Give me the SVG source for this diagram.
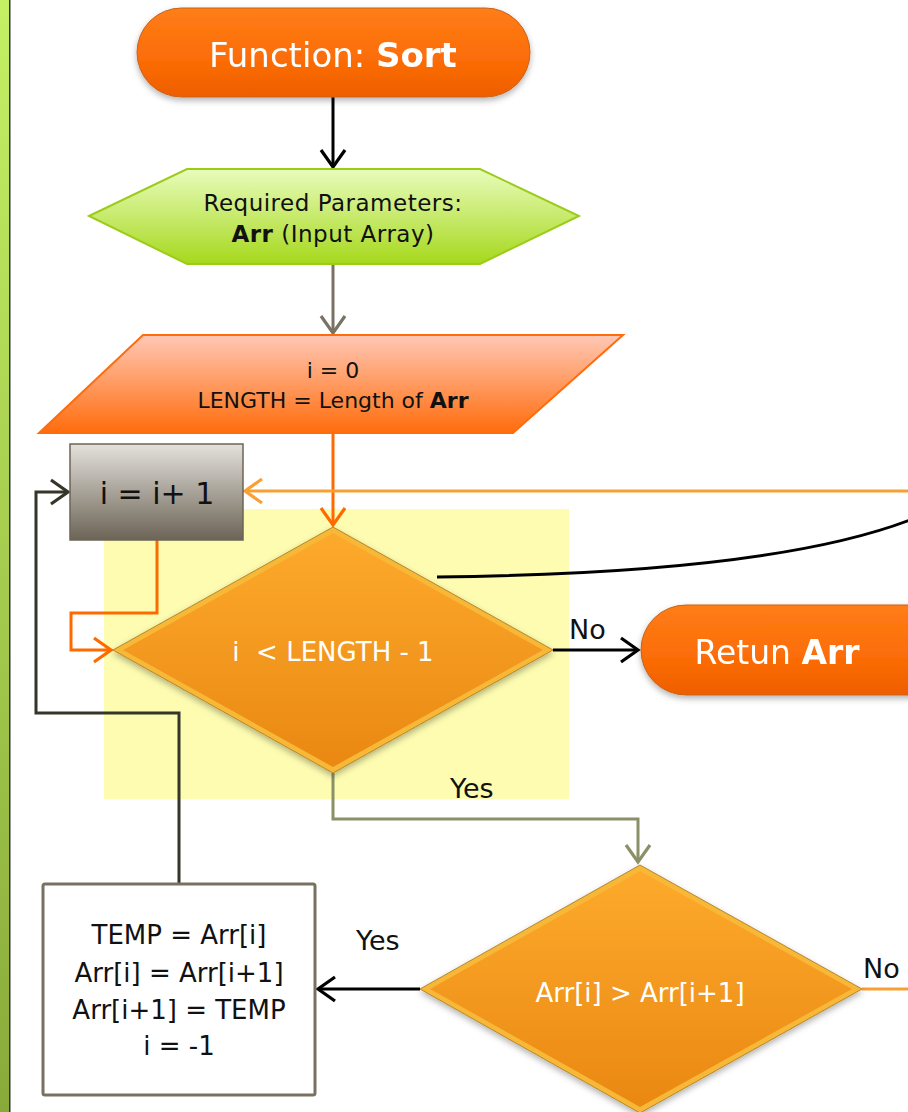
<svg xmlns="http://www.w3.org/2000/svg" width="908" height="1112" viewBox="0 0 908 1112">
  <defs>
    <style>
      .t { font-family: "DejaVu Sans", "Liberation Sans", sans-serif; text-anchor: middle; }
      .w { fill: #ffffff; }
      .k { fill: #111111; }
      .b { font-weight: bold; }
      .lbl { font-family: "DejaVu Sans", "Liberation Sans", sans-serif; font-size: 27px; fill: #111111; }
      .c { fill: none; stroke-width: 3; stroke-linejoin: miter; }
    </style>
    <linearGradient id="stripe" x1="0" y1="0" x2="0" y2="1">
      <stop offset="0" stop-color="#c4f064"/>
      <stop offset="1" stop-color="#88aa3a"/>
    </linearGradient>
    <linearGradient id="pill" x1="0" y1="0" x2="0" y2="1">
      <stop offset="0" stop-color="#ff7d18"/>
      <stop offset="0.6" stop-color="#fb6c06"/>
      <stop offset="1" stop-color="#ee5e00"/>
    </linearGradient>
    <linearGradient id="hex" x1="0" y1="0" x2="0" y2="1">
      <stop offset="0" stop-color="#e8fcbc"/>
      <stop offset="1" stop-color="#a6d81c"/>
    </linearGradient>
    <linearGradient id="para" x1="0" y1="0" x2="0" y2="1">
      <stop offset="0" stop-color="#ffc8b6"/>
      <stop offset="0.5" stop-color="#ff9a60"/>
      <stop offset="1" stop-color="#ff6c0c"/>
    </linearGradient>
    <linearGradient id="grey" x1="0" y1="0" x2="0" y2="1">
      <stop offset="0" stop-color="#e4e1dc"/>
      <stop offset="1" stop-color="#6c6456"/>
    </linearGradient>
    <linearGradient id="dia" x1="0" y1="0" x2="0" y2="1">
      <stop offset="0" stop-color="#fdaa2c"/>
      <stop offset="1" stop-color="#ea8812"/>
    </linearGradient>
    <filter id="shadow" x="-10%" y="-10%" width="120%" height="130%">
      <feDropShadow dx="0" dy="3" stdDeviation="3" flood-color="#000000" flood-opacity="0.3"/>
    </filter>
    <marker id="ah-black" viewBox="-20 -14 24 28" refX="0" refY="0" markerWidth="24" markerHeight="28" markerUnits="userSpaceOnUse" orient="auto">
      <path d="M-17,-12 L0,0 L-17,12" fill="none" stroke="#000000" stroke-width="3.2"/>
    </marker>
    <marker id="ah-grey" viewBox="-20 -14 24 28" refX="0" refY="0" markerWidth="24" markerHeight="28" markerUnits="userSpaceOnUse" orient="auto">
      <path d="M-17,-12 L0,0 L-17,12" fill="none" stroke="#7a7264" stroke-width="3.2"/>
    </marker>
    <marker id="ah-orange" viewBox="-20 -14 24 28" refX="0" refY="0" markerWidth="24" markerHeight="28" markerUnits="userSpaceOnUse" orient="auto">
      <path d="M-17,-12 L0,0 L-17,12" fill="none" stroke="#fe6a00" stroke-width="3.2"/>
    </marker>
    <marker id="ah-lorange" viewBox="-20 -14 24 28" refX="0" refY="0" markerWidth="24" markerHeight="28" markerUnits="userSpaceOnUse" orient="auto">
      <path d="M-17,-12 L0,0 L-17,12" fill="none" stroke="#f8a032" stroke-width="3.2"/>
    </marker>
    <marker id="ah-olive" viewBox="-20 -14 24 28" refX="0" refY="0" markerWidth="24" markerHeight="28" markerUnits="userSpaceOnUse" orient="auto">
      <path d="M-17,-12 L0,0 L-17,12" fill="none" stroke="#8c9068" stroke-width="3.2"/>
    </marker>
    <marker id="ah-dark" viewBox="-20 -14 24 28" refX="0" refY="0" markerWidth="24" markerHeight="28" markerUnits="userSpaceOnUse" orient="auto">
      <path d="M-17,-12 L0,0 L-17,12" fill="none" stroke="#35352a" stroke-width="3.2"/>
    </marker>
  </defs>

  <!-- page background and side stripe -->
  <rect x="0" y="0" width="908" height="1112" fill="#ffffff"/>
  <rect x="0" y="0" width="9" height="1112" fill="url(#stripe)"/>
  <rect x="9" y="0" width="1.5" height="1112" fill="#333333"/>

  <!-- highlighted loop condition area -->
  <rect id="highlight" x="104" y="509" width="465" height="290" fill="#fdfcb0"/>

  <g id="connectors">
    <line class="c" x1="333" y1="97" x2="333" y2="167" stroke="#000000" marker-end="url(#ah-black)"/>
    <line class="c" x1="333" y1="264" x2="333" y2="333" stroke="#7a7264" marker-end="url(#ah-grey)"/>
    <line class="c" x1="333" y1="433" x2="333" y2="525" stroke="#fe6a00" marker-end="url(#ah-orange)"/>
    <line class="c" x1="908" y1="491" x2="245" y2="491" stroke="#f8a032" marker-end="url(#ah-lorange)"/>
    <path class="c" d="M157,540 V613 H71 V650 H111" stroke="#fe6a00" marker-end="url(#ah-orange)"/>
    <path class="c" d="M437,577 C620,575 800,562 910,520" stroke="#000000"/>
    <line class="c" x1="553" y1="650" x2="638" y2="650" stroke="#000000" marker-end="url(#ah-black)"/>
    <text class="lbl" x="569" y="639">No</text>
    <path class="c" d="M333,773 V819 H638 V862" stroke="#8c9068" marker-end="url(#ah-olive)"/>
    <text class="lbl" x="450" y="798">Yes</text>
    <line class="c" x1="420" y1="989" x2="318" y2="989" stroke="#000000" marker-end="url(#ah-black)"/>
    <text class="lbl" x="356" y="950">Yes</text>
    <line class="c" x1="862" y1="989" x2="908" y2="989" stroke="#f8a032"/>
    <text class="lbl" x="863" y="978">No</text>
    <path class="c" d="M179,884 V713 H36 V492 H68" stroke="#35352a" marker-end="url(#ah-dark)"/>
  </g>

  <g id="node-start" filter="url(#shadow)">
    <rect x="137" y="8" width="393" height="89" rx="44.5" fill="url(#pill)" stroke="#c8621a" stroke-width="1"/>
    <text class="t w" x="333" y="67" font-size="34">Function: <tspan class="b">Sort</tspan></text>
  </g>

  <g id="node-params">
    <polygon points="89,216 187,169 480,169 579,216 480,264 187,264" fill="url(#hex)" stroke="#9ccc1a" stroke-width="2"/>
    <text class="t k" x="333" y="211" font-size="23" letter-spacing="0.5">Required Parameters:</text>
    <text class="t k" x="333" y="242" font-size="23" letter-spacing="0.5"><tspan class="b">Arr</tspan> (Input Array)</text>
  </g>

  <g id="node-init">
    <polygon points="143,335 623,335 513,433 39,433" fill="url(#para)" stroke="#ff6c0c" stroke-width="2"/>
    <text class="t k" x="333" y="378" font-size="22">i = 0</text>
    <text class="t k" x="333" y="408" font-size="22">LENGTH = Length of <tspan class="b">Arr</tspan></text>
  </g>

  <g id="node-increment">
    <rect x="70" y="444" width="173" height="96" fill="url(#grey)" stroke="#6c6456" stroke-width="1.5"/>
    <text class="t k" x="157" y="504" font-size="30">i = i+ 1</text>
  </g>

  <g id="node-check-length">
    <polygon points="333,527 553,650 333,773 113,650" fill="#f7b838" stroke="#b8862a" stroke-width="1" filter="url(#shadow)"/>
    <polygon points="333,533 543,650 333,767 123,650" fill="url(#dia)"/>
    <text class="t w" x="333" y="661" font-size="26" xml:space="preserve">i  &lt; LENGTH - 1</text>
  </g>

  <g id="node-return" filter="url(#shadow)">
    <rect x="641" y="605" width="320" height="90" rx="45" fill="url(#pill)" stroke="#c8621a" stroke-width="1"/>
    <text class="t w" x="777" y="664" font-size="33">Retun <tspan class="b">Arr</tspan></text>
  </g>

  <g id="node-compare">
    <polygon points="640,865 862,989 640,1113 420,989" fill="#f7b838" stroke="#b8862a" stroke-width="1" filter="url(#shadow)"/>
    <polygon points="640,871 852,989 640,1107 430,989" fill="url(#dia)"/>
    <text class="t w" x="640" y="1002" font-size="26">Arr[i] &gt; Arr[i+1]</text>
  </g>

  <g id="node-swap">
    <rect x="43" y="884" width="272" height="211" rx="2" fill="#ffffff" stroke="#7a7060" stroke-width="3"/>
    <text class="t k" x="179" y="944" font-size="26">TEMP = Arr[i]</text>
    <text class="t k" x="179" y="982" font-size="26">Arr[i] = Arr[i+1]</text>
    <text class="t k" x="179" y="1019" font-size="26">Arr[i+1] = TEMP</text>
    <text class="t k" x="179" y="1055" font-size="26">i = -1</text>
  </g>
</svg>
